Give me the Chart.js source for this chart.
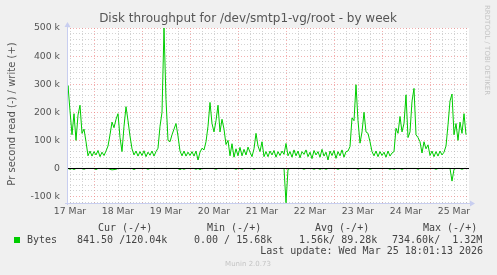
<!DOCTYPE html>
<html>
<head>
<meta charset="utf-8">
<script src="https://cdn.jsdelivr.net/npm/chart.js@4.4.1/dist/chart.umd.min.js"></script>
<style>
  body { margin: 0; background: #f0f0f0; }
  #wrap { width: 497px; height: 275px; }
</style>
</head>
<body>
<div id="wrap"><canvas id="diskChart" width="497" height="275"></canvas></div>
<script>
// ==========================================
// DATA (hourly, hour 0 = 17 Mar 00:00, values in k)
// ==========================================
const START_HOUR = 10;
const dayLabels = ['17 Mar', '18 Mar', '19 Mar', '20 Mar', '21 Mar', '22 Mar', '23 Mar', '24 Mar', '25 Mar'];
const yLabelValues = [-100, 0, 100, 200, 300, 400, 500];

// write (+)
const writeK = [
  170, 295, 205, 120, 195, 100, 190, 225, 125, 140, 95, 45, 62, 44,
  60, 48, 64, 42, 58, 46, 62, 80, 120, 165, 145, 175, 195, 110, 60, 150, 220, 170, 115, 70, 48, 62, 44, 60,
  46, 63, 42, 58, 47, 62, 44, 60, 72, 150, 200, 500, 245, 100, 95, 120, 140, 160, 115, 62, 45, 62, 44, 58,
  46, 60, 44, 62, 30, 58, 72, 66, 95, 150, 235, 160, 130, 170, 225, 130, 175, 140, 85, 100, 45, 88, 40, 70,
  45, 75, 45, 68, 48, 76, 58, 42, 70, 125, 80, 60, 95, 42, 60, 42, 62, 48, 64, 40, 60, 46, 62, 50,
  89, 45, 60, 40, 66, 45, 62, 38, 60, 50, 66, 42, 58, 35, 64, 48, 60, 40, 68, 44, 58, 30, 62, 46,
  64, 36, 60, 45, 66, 40, 60, 62, 78, 180, 170, 298, 170, 90, 130, 200, 130, 125, 95, 60, 45, 62, 42, 60,
  46, 58, 40, 62, 44, 55, 60, 143, 125, 185, 130, 160, 262, 110, 130, 239, 285, 120, 110, 95, 55, 95, 70, 84,
  46, 62, 42, 60, 44, 62, 48, 58, 80, 155, 240, 265, 120, 160, 100, 165, 125, 195, 120
];

// read (-), stored as positive rates
const readK = [
  4, 0, 3, 0, 4, 0, 0, 0, 0, 3, 0, 0, 0, 0,
  0, 4, 0, 0, 0, 0, 0, 0, 3, 5, 4, 3, 0, 0, 0, 0, 0, 0, 0, 0, 4, 0, 0, 0,
  0, 0, 0, 3, 0, 0, 0, 0, 0, 0, 0, 0, 0, 0, 0, 0, 0, 0, 0, 4, 0, 3, 0, 0,
  0, 0, 0, 3, 0, 4, 0, 0, 0, 0, 0, 0, 0, 3, 0, 0, 0, 0, 0, 0, 0, 0, 0, 3,
  0, 0, 3, 0, 0, 0, 0, 0, 3, 0, 0, 0, 0, 0, 0, 0, 0, 0, 0, 0, 0, 0, 0, 0,
  122, 3, 0, 0, 0, 0, 0, 0, 0, 3, 0, 0, 0, 0, 3, 0, 0, 3, 0, 0, 3, 0, 0, 0,
  0, 0, 3, 0, 0, 0, 0, 0, 0, 0, 0, 0, 3, 0, 0, 0, 0, 0, 3, 0, 0, 0, 0, 0,
  0, 0, 0, 0, 3, 0, 3, 0, 0, 0, 3, 0, 0, 0, 0, 0, 0, 0, 3, 0, 0, 0, 0, 0,
  0, 0, 0, 3, 0, 0, 0, 0, 0, 0, 0, 45, 3, 0, 0, 0, 3, 0, 0
];

// legend table
const legendHeaders = ['Cur (-/+)', 'Min (-/+)', 'Avg (-/+)', 'Max (-/+)'];
const legendValues = ['841.50 /120.04k', '0.00 / 15.68k', '1.56k/ 89.28k', '734.60k/  1.32M'];
const seriesName = 'Bytes';
const lastUpdate = 'Last update: Wed Mar 25 18:01:13 2026';

// ==========================================
// STYLE
// ==========================================
const GREEN = '#00cc00';
const MAJOR_GRID = 'rgba(235,120,120,0.6)';
const MINOR_GRID = 'rgba(175,175,175,0.55)';
const AXIS_COL = '#c8cef0';
const TEXT_COL = '#555555';
const SANS = '"DejaVu Sans", sans-serif';
const MONO = '"DejaVu Sans Mono", monospace';

const writePts = writeK.map((v, i) => ({ x: START_HOUR + i, y: v }));
const readPts = readK.map((v, i) => ({ x: START_HOUR + i, y: -v }));

// ==========================================
// PLUGINS
// ==========================================
const backdrop = {
  id: 'backdrop',
  beforeDraw(chart) {
    const { ctx, chartArea: a } = chart;
    ctx.save();
    ctx.fillStyle = '#f0f0f0';
    ctx.fillRect(0, 0, chart.width, chart.height);
    ctx.fillStyle = '#ffffff';
    ctx.fillRect(a.left, a.top, a.right - a.left, a.bottom - a.top);
    ctx.restore();
  }
};

const axesAndZero = {
  id: 'axesAndZero',
  afterDatasetsDraw(chart) {
    const { ctx, chartArea: a, scales } = chart;
    const y0 = Math.round(scales.y.getPixelForValue(0)) + 0.5;
    ctx.save();
    // zero line
    ctx.strokeStyle = '#000';
    ctx.lineWidth = 1;
    ctx.beginPath();
    ctx.moveTo(a.left, y0);
    ctx.lineTo(a.right, y0);
    ctx.stroke();
    // axes with arrows
    ctx.strokeStyle = AXIS_COL;
    ctx.fillStyle = AXIS_COL;
    ctx.beginPath();
    ctx.moveTo(a.left + 0.5, a.bottom + 2);
    ctx.lineTo(a.left + 0.5, a.top - 2);
    ctx.moveTo(a.left - 2, a.bottom + 0.5);
    ctx.lineTo(a.right + 2, a.bottom + 0.5);
    ctx.stroke();
    ctx.beginPath();
    ctx.moveTo(a.left + 0.5, a.top - 6);
    ctx.lineTo(a.left - 2.5, a.top - 1);
    ctx.lineTo(a.left + 3.5, a.top - 1);
    ctx.fill();
    ctx.beginPath();
    ctx.moveTo(a.right + 6, a.bottom + 0.5);
    ctx.lineTo(a.right + 1, a.bottom - 2.5);
    ctx.lineTo(a.right + 1, a.bottom + 3.5);
    ctx.fill();
    ctx.restore();
  }
};

const texts = {
  id: 'texts',
  afterDraw(chart) {
    const ctx = chart.ctx;
    ctx.save();
    ctx.textBaseline = 'middle';

    // title
    ctx.fillStyle = TEXT_COL;
    ctx.font = '12px ' + SANS;
    ctx.textAlign = 'center';
    ctx.fillText('Disk throughput for /dev/smtp1-vg/root - by week', 248, 19);

    // y title
    ctx.save();
    ctx.translate(12, 114);
    ctx.rotate(-Math.PI / 2);
    ctx.font = '10px ' + SANS;
    ctx.fillText('Pr second read (-) / write (+)', 0, 0);
    ctx.restore();

    // watermark
    ctx.save();
    ctx.translate(487, 5);
    ctx.rotate(Math.PI / 2);
    ctx.fillStyle = '#c4c4c4';
    ctx.font = '7px ' + SANS;
    ctx.textAlign = 'left';
    ctx.fillText('RRDTOOL / TOBI OETIKER', 0, 0);
    ctx.restore();

    // legend
    ctx.fillStyle = '#444';
    ctx.font = '10px ' + MONO;
    ctx.textAlign = 'left';
    const headX = [98, 207, 315, 423];
    const valX = [77, 194, 299, 392];
    legendHeaders.forEach((h, i) => ctx.fillText(h, headX[i], 228));
    legendValues.forEach((v, i) => ctx.fillText(v, valX[i], 240));
    ctx.fillText(seriesName, 27, 240);
    ctx.textAlign = 'right';
    ctx.fillText(lastUpdate, 483, 251.5);

    ctx.fillStyle = GREEN;
    ctx.fillRect(14, 237, 6, 6);

    ctx.fillStyle = '#c4c4c4';
    ctx.font = '7px ' + SANS;
    ctx.textAlign = 'center';
    ctx.fillText('Munin 2.0.73', 248, 264);
    ctx.restore();
  }
};

// ==========================================
// CHART
// ==========================================
const ctx = document.getElementById('diskChart').getContext('2d');

new Chart(ctx, {
  type: 'line',
  data: {
    datasets: [
      { label: 'write', data: writePts, borderColor: GREEN, borderWidth: 1, pointRadius: 0, tension: 0, fill: false },
      { label: 'read', data: readPts, borderColor: GREEN, borderWidth: 1, pointRadius: 0, tension: 0, fill: false }
    ]
  },
  options: {
    responsive: false,
    devicePixelRatio: 1,
    animation: false,
    layout: { padding: { top: 28, right: 28, bottom: 52, left: 0 } },
    plugins: { legend: { display: false }, title: { display: false }, tooltip: { enabled: false } },
    scales: {
      x: {
        type: 'linear',
        min: 10.5,
        max: 211.5,
        afterBuildTicks(scale) {
          const t = [];
          for (let h = 12; h <= 210; h += 6) t.push({ value: h });
          scale.ticks = t;
        },
        afterFit(scale) { scale.height = 20; },
        grid: {
          drawTicks: false,
          lineWidth: 1,
          color: c => (c.tick && c.tick.value % 24 === 0 ? MAJOR_GRID : MINOR_GRID)
        },
        border: { display: false, dash: [1, 2] },
        ticks: {
          autoSkip: false,
          maxRotation: 0,
          padding: 3,
          color: TEXT_COL,
          font: { family: SANS, size: 9.3 },
          callback: v => (v % 24 === 12 ? dayLabels[(v - 12) / 24] : '')
        }
      },
      y: {
        type: 'linear',
        min: -123,
        max: 500,
        afterBuildTicks(scale) {
          const t = [];
          for (let v = -120; v <= 500; v += 20) t.push({ value: v });
          scale.ticks = t;
        },
        afterFit(scale) { scale.width = 67; },
        grid: {
          drawTicks: false,
          lineWidth: 1,
          color: c => {
            const v = c.tick && c.tick.value;
            if (v === 0) return 'rgba(0,0,0,0)';
            return v % 100 === 0 ? MAJOR_GRID : MINOR_GRID;
          }
        },
        border: { display: false, dash: [1, 2] },
        ticks: {
          autoSkip: false,
          padding: 7,
          color: TEXT_COL,
          font: { family: SANS, size: 9.3 },
          callback: v => {
            if (!yLabelValues.includes(v)) return '';
            return v === 0 ? '0' : v + ' k';
          }
        }
      }
    }
  },
  plugins: [backdrop, axesAndZero, texts]
});
</script>
</body>
</html>
